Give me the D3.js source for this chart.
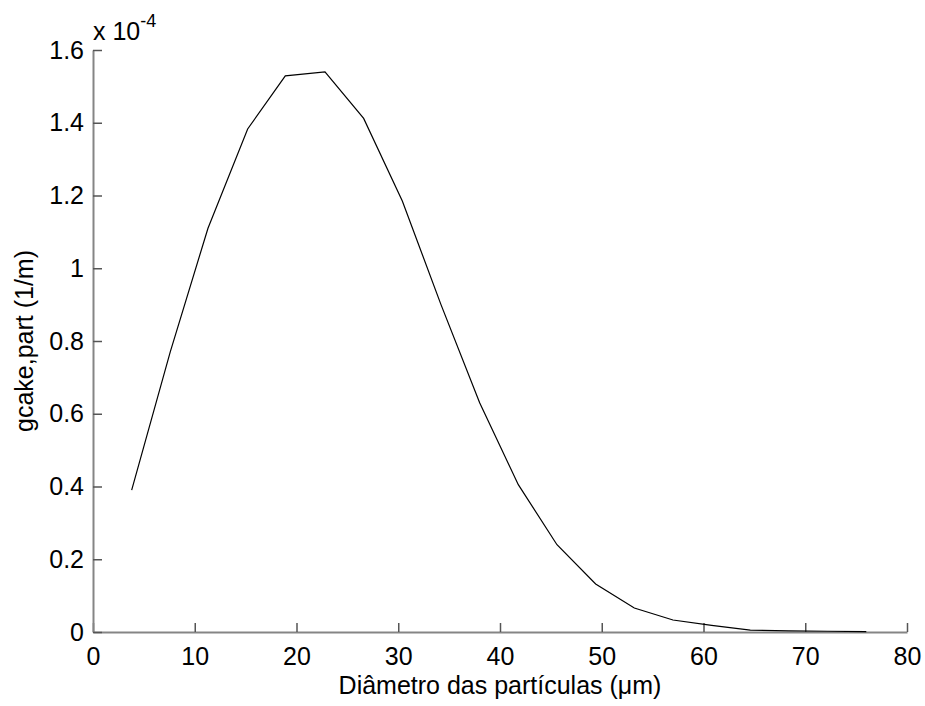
<!DOCTYPE html>
<html>
<head>
<meta charset="utf-8">
<script src="https://cdn.jsdelivr.net/npm/d3@7"></script>
<style>
  body { margin: 0; background: #fff; }
  text { font-family: "Liberation Sans", Arial, sans-serif; fill: #000; }
</style>
</head>
<body>
<script>
// particle diameter (um) and gcake,part (x 1e-4, 1/m)
var diameter = [3.8, 7.6, 11.3, 15.2, 18.9, 22.8, 26.6, 30.4, 34.2, 38.0, 41.8, 45.6, 49.4, 53.2, 57.0, 60.8, 64.6, 68.4, 72.2, 76.0];
var gcake = [0.39, 0.771, 1.11, 1.383, 1.529, 1.540, 1.412, 1.185, 0.90, 0.63, 0.405, 0.24, 0.132, 0.066, 0.033, 0.018, 0.005, 0.003, 0.002, 0.001];
var xTicks = [0, 10, 20, 30, 40, 50, 60, 70, 80];
var yTicks = [0, 0.2, 0.4, 0.6, 0.8, 1, 1.2, 1.4, 1.6];

var svgWidth = 925;
var svgHeight = 706;
var margin = { top: 50, right: 18, bottom: 74, left: 93 };
var width = svgWidth - margin.left - margin.right;
var height = svgHeight - margin.top - margin.bottom;

var svg = d3.select("body")
  .append("svg")
  .attr("width", svgWidth)
  .attr("height", svgHeight);

var chartGroup = svg.append("g")
  .attr("transform", `translate(${margin.left}, ${margin.top})`);

var xScale = d3.scaleLinear().domain([0, 80]).range([0, width]);
var yScale = d3.scaleLinear().domain([0, 1.6]).range([height, 0]);

// axes, ticks pointing inward like matlab
var bottomAxis = d3.axisBottom(xScale).tickValues(xTicks).tickSizeInner(-9).tickSizeOuter(0).tickPadding(15).tickFormat(d3.format("d"));
var leftAxis = d3.axisLeft(yScale).tickValues(yTicks).tickSizeInner(-9).tickSizeOuter(0).tickPadding(9).tickFormat(d => d === 0 || d === 1 ? d : d3.format(".1f")(d));

var xg = chartGroup.append("g")
  .attr("transform", `translate(0, ${height})`)
  .call(bottomAxis);

var yg = chartGroup.append("g")
  .call(leftAxis);

[xg, yg].forEach(function(g) {
  g.select(".domain").attr("stroke", "#858585").attr("stroke-width", 2);
  g.selectAll(".tick line").attr("stroke", "#555").attr("stroke-width", 1.5);
  g.selectAll(".tick text").style("font-size", "25px").attr("fill", "#000");
});

// data line
var line = d3.line()
  .x((d, i) => xScale(diameter[i]))
  .y(d => yScale(d));

chartGroup.append("path")
  .datum(gcake)
  .attr("fill", "none")
  .attr("stroke", "#000")
  .attr("stroke-width", 1.2)
  .attr("d", line);

// exponent label
var expo = svg.append("text")
  .attr("x", 93)
  .attr("y", 40)
  .style("font-size", "25px");
expo.append("tspan").text("x 10");
expo.append("tspan").attr("dy", -13).style("font-size", "18px").text("-4");

// X axis label
svg.append("text")
  .attr("x", margin.left + width / 2)
  .attr("y", 694)
  .attr("text-anchor", "middle")
  .style("font-size", "25px")
  .text("Diâmetro das partículas (μm)");

// Y axis label
svg.append("text")
  .attr("transform", "rotate(-90)")
  .attr("x", -(margin.top + height / 2))
  .attr("y", 33)
  .attr("text-anchor", "middle")
  .style("font-size", "25px")
  .text("gcake,part (1/m)");
</script>
</body>
</html>
